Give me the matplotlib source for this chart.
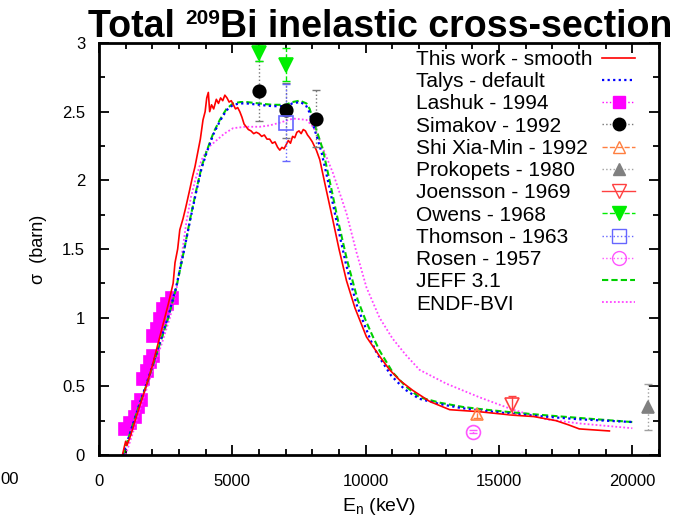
import matplotlib
matplotlib.use("Agg")
import matplotlib.pyplot as plt
from matplotlib.lines import Line2D
from matplotlib.ticker import MultipleLocator

plt.rcParams['font.family'] = ['Liberation Sans', 'DejaVu Sans']
plt.rcParams['mathtext.fontset'] = 'custom'
plt.rcParams['mathtext.rm'] = 'Liberation Sans'
plt.rcParams['mathtext.it'] = 'Liberation Sans:italic'
plt.rcParams['mathtext.bf'] = 'Liberation Sans:bold'

# --- this work (smooth) ---
work_x = [880, 950, 1000, 1050, 1200, 1400, 1600, 1800, 2000, 2200, 2400, 2600,
          2780, 2850, 2950, 3030, 3150, 3250, 3400, 3500, 3600, 3700, 3800, 3900,
          3980, 4040, 4100, 4150, 4220, 4300, 4400, 4480, 4560, 4640, 4720, 4800,
          4880, 4960, 5040, 5120, 5200, 5280, 5360, 5440, 5520, 5600, 5700, 5800,
          5900, 6000, 6100, 6200, 6300, 6400, 6500, 6600, 6700, 6780, 6860, 6940,
          7020, 7100, 7180, 7260, 7340, 7420, 7500, 7580, 7660, 7740, 7820, 7900,
          8000, 8150, 8280, 8500, 8770, 9000, 9280, 9600, 10030, 10520, 10900,
          11300, 11770, 12400, 13150, 14270, 15520, 16300, 17140, 17600, 18010, 19140]
work_y = [0.0, 0.06, 0.1, 0.07, 0.15, 0.28, 0.4, 0.52, 0.65, 0.8, 0.95, 1.1,
          1.25, 1.4, 1.5, 1.64, 1.72, 1.8, 1.93, 2.02, 2.1, 2.2, 2.3, 2.44,
          2.5, 2.6, 2.64, 2.5, 2.55, 2.52, 2.59, 2.56, 2.6, 2.58, 2.62, 2.6,
          2.57, 2.58, 2.55, 2.52, 2.53, 2.5, 2.46, 2.41, 2.39, 2.37, 2.36, 2.34,
          2.35, 2.34, 2.32, 2.33, 2.3, 2.3, 2.27, 2.28, 2.24, 2.22, 2.24, 2.23,
          2.26, 2.29, 2.27, 2.32, 2.31, 2.35, 2.36, 2.34, 2.37, 2.36, 2.33, 2.31,
          2.28, 2.22, 2.15, 1.95, 1.71, 1.5, 1.27, 1.07, 0.86, 0.72, 0.62,
          0.54, 0.47, 0.39, 0.33, 0.315, 0.29, 0.28, 0.25, 0.22, 0.19, 0.175]

# --- Talys default ---
talys_x = [900, 1200, 1500, 1800, 2100, 2400, 2600, 2900, 3200, 3450, 3650, 3850,
           4050, 4300, 4530, 4780, 5030, 5300, 5530, 6000, 6500, 7000, 7250, 7530,
           7750, 7880, 8000, 8150, 8350, 8650, 8900, 9250, 9650, 9950, 10200, 10450,
           10950, 11450, 12000, 12800, 13640, 14500, 15520, 16700, 18000, 19000, 20000]
talys_y = [0.0, 0.18, 0.36, 0.53, 0.71, 0.89, 1.01, 1.23, 1.5, 1.74, 1.92, 2.09,
           2.21, 2.34, 2.43, 2.51, 2.55, 2.56, 2.56, 2.55, 2.54, 2.54, 2.56, 2.57,
           2.55, 2.5, 2.42, 2.33, 2.2, 1.94, 1.71, 1.4, 1.1, 0.95, 0.83, 0.73,
           0.58, 0.48, 0.41, 0.37, 0.34, 0.32, 0.3, 0.28, 0.26, 0.25, 0.24]

# --- JEFF 3.1 ---
jeff_x = [900, 1200, 1500, 1800, 2100, 2400, 2600, 2900, 3200, 3450, 3650, 3850,
          4050, 4300, 4530, 4780, 5030, 5300, 5530, 6000, 6500, 7000, 7250, 7530,
          7780, 7900, 8030, 8200, 8400, 8700, 8960, 9300, 9700, 10000, 10275, 10520,
          11020, 11500, 12020, 12800, 13640, 14500, 15520, 16700, 18000, 19000, 20000]
jeff_y = [0.0, 0.18, 0.36, 0.52, 0.7, 0.88, 1.0, 1.22, 1.5, 1.75, 1.93, 2.1,
          2.22, 2.35, 2.44, 2.52, 2.56, 2.57, 2.57, 2.56, 2.55, 2.55, 2.57, 2.58,
          2.56, 2.52, 2.44, 2.34, 2.22, 1.95, 1.71, 1.42, 1.13, 0.98, 0.86, 0.76,
          0.6, 0.5, 0.42, 0.38, 0.35, 0.33, 0.31, 0.29, 0.27, 0.255, 0.24]

# --- ENDF-BVI ---
endf_x = [1000, 1300, 1600, 1900, 2200, 2450, 2660, 2900, 3100, 3280, 3450, 3650,
          3850, 4100, 4400, 4700, 5030, 5500, 6030, 6400, 6780, 7280, 7780, 8030,
          8280, 8530, 8780, 9280, 9650, 10030, 10520, 11000, 11500, 12020, 13020,
          14270, 15520, 16770, 18000, 20000]
endf_y = [0.0, 0.18, 0.37, 0.55, 0.72, 0.87, 1.0, 1.2, 1.45, 1.7, 1.88, 2.03,
          2.15, 2.24, 2.29, 2.34, 2.38, 2.39, 2.39, 2.4, 2.42, 2.45, 2.44, 2.39,
          2.29, 2.17, 2.05, 1.76, 1.48, 1.22, 1.0, 0.85, 0.73, 0.62, 0.52,
          0.42, 0.33, 0.26, 0.23, 0.195]

# --- experiments ---
lashuk_x = [974, 1161, 1348, 1473, 1560, 1660, 1785, 1910, 2034, 2034, 2160, 2285, 2410, 2560, 2720]
lashuk_y = [0.19, 0.23, 0.28, 0.35, 0.40, 0.55, 0.61, 0.68, 0.72, 0.87, 0.92, 0.99, 1.06, 1.10, 1.14]
lashuk_err = [0.03] * len(lashuk_x)

simakov_x = [6000, 7000, 8130]
simakov_y = [2.65, 2.51, 2.45]
simakov_err = [0.22, 0.20, 0.21]

shi_x = [14180]
shi_y = [0.30]
shi_err = [0.03]

prokopets_x = [20600]
prokopets_y = [0.35]
prokopets_err = [0.17]

joensson_x = [15490]
joensson_y = [0.365]
joensson_err = [0.065]

owens_x = [6000, 7000]
owens_y = [2.93, 2.84]
owens_err = [0.06, 0.12]

thomson_x = [7000]
thomson_y = [2.42]
thomson_err = [0.28]

rosen_x = [14020]
rosen_y = [0.17]
rosen_err = [0.01]

labels = ['This work - smooth', 'Talys - default', 'Lashuk - 1994', 'Simakov - 1992',
          'Shi Xia-Min - 1992', 'Prokopets - 1980', 'Joensson - 1969', 'Owens - 1968',
          'Thomson - 1963', 'Rosen - 1957', 'JEFF 3.1', 'ENDF-BVI']

fig = plt.figure(figsize=(6.88, 5.23), dpi=100)
ax = fig.add_axes([99 / 688, 68 / 523, 560 / 688, 412 / 523])

# curves
ax.plot(endf_x, endf_y, color='#ff44ff', ls=(0, (1, 1.2)), lw=1.3, zorder=2)
ax.plot(jeff_x, jeff_y, color='#00d000', ls=(0, (3, 1.5)), lw=1.5, zorder=2)
ax.plot(talys_x, talys_y, color='#0000ff', ls=(0, (1, 1.5)), lw=1.6, zorder=2.1)
ax.plot(work_x, work_y, color='#ff0000', ls='-', lw=1.2, zorder=2.2)


def points(x, y, err, color, ecolor, ls, marker, ms, mfc, zorder=3, caps=3):
    eb = ax.errorbar(x, y, yerr=err, fmt='none', ecolor=ecolor, elinewidth=1.0,
                     capsize=caps, capthick=1.0, zorder=zorder - 0.5)
    for lc in eb[2]:
        lc.set_linestyle(ls)
    ax.plot(x, y, ls='none', marker=marker, ms=ms, mfc=mfc, mec=color,
            mew=1.2, zorder=zorder)


points(lashuk_x, lashuk_y, lashuk_err, '#ff00ff', '#ff00ff', ':', 's', 9, '#ff00ff', zorder=1.8)
points(simakov_x, simakov_y, simakov_err, 'black', '#777777', ':', 'o', 9, 'black')
points(shi_x, shi_y, shi_err, '#ff7f40', '#ff7f40', '--', '^', 9, 'none')
points(prokopets_x, prokopets_y, prokopets_err, '#808080', '#a0a0a0', ':', '^', 9, '#808080')
points(joensson_x, joensson_y, joensson_err, '#ff4040', '#ff4040', '-', 'v', 10, 'none')
points(owens_x, owens_y, owens_err, '#00ee00', '#00ee00', '--', 'v', 10, '#00ee00')
points(thomson_x, thomson_y, thomson_err, '#6666ff', '#6666ff', ':', 's', 10, 'none')
points(rosen_x, rosen_y, rosen_err, '#ff55ff', '#ff55ff', ':', 'o', 10, 'none')

ax.set_xlim(0, 21000)
ax.set_ylim(0, 3)
ax.xaxis.set_major_locator(MultipleLocator(5000))
ax.xaxis.set_minor_locator(MultipleLocator(1000))
ax.yaxis.set_major_locator(MultipleLocator(0.5))
ax.yaxis.set_minor_locator(MultipleLocator(0.25))
ax.set_yticks([0, 0.5, 1, 1.5, 2, 2.5, 3], ['0', '0.5', '1', '1.5', '2', '2.5', '3'])
ax.tick_params(which='both', direction='in', top=True, right=True, width=1.3, labelsize=12)
ax.tick_params(which='major', length=7)
ax.tick_params(which='minor', length=4)
ax.tick_params(axis='y', pad=10)
ax.tick_params(axis='x', pad=14)
for s in ax.spines.values():
    s.set_linewidth(2)

ax.set_xlabel(r'E$_\mathrm{n}$ (keV)', fontsize=14, labelpad=5)
ax.set_ylabel('σ  (barn)', fontsize=13, labelpad=11)

# title in three pieces so the mass number sits small and raised
t1 = fig.text(88 / 688, 1 - 37 / 523, 'Total ', ha='left', va='baseline',
              fontsize=27, fontweight='bold')
t2 = ax.annotate('209', xy=(1, 1), xycoords=t1, ha='left', va='top',
                 fontsize=15, fontweight='bold', annotation_clip=False)
ax.annotate('Bi inelastic cross-section', xy=(1, 0), xycoords=(t2, t1),
            ha='left', va='bottom', fontsize=27, fontweight='bold',
            annotation_clip=False)

fig.text(0.0, 1 - 480 / 523, '00', ha='left', va='center', fontsize=12)

# legend: left-aligned labels with the keys on the right
handles = [
    Line2D([], [], color='#ff0000', ls='-', lw=1.2),
    Line2D([], [], color='#0000ff', ls=(0, (1, 1.5)), lw=1.6),
    Line2D([], [], color='#ff00ff', ls=':', lw=1, marker='s', ms=9, mfc='#ff00ff', mec='#ff00ff'),
    Line2D([], [], color='#777777', ls=':', lw=1, marker='o', ms=9, mfc='black', mec='black'),
    Line2D([], [], color='#ff7f40', ls='--', lw=1, marker='^', ms=9, mfc='none', mec='#ff7f40'),
    Line2D([], [], color='#a0a0a0', ls=':', lw=1, marker='^', ms=9, mfc='#808080', mec='#808080'),
    Line2D([], [], color='#ff4040', ls='-', lw=1, marker='v', ms=10, mfc='none', mec='#ff4040'),
    Line2D([], [], color='#00ee00', ls='--', lw=1, marker='v', ms=10, mfc='#00ee00', mec='#00ee00'),
    Line2D([], [], color='#6666ff', ls=':', lw=1, marker='s', ms=10, mfc='none', mec='#6666ff'),
    Line2D([], [], color='#ff55ff', ls=':', lw=1, marker='o', ms=10, mfc='none', mec='#ff55ff'),
    Line2D([], [], color='#00d000', ls=(0, (3, 1.5)), lw=1.5),
    Line2D([], [], color='#ff44ff', ls=(0, (1, 1.2)), lw=1.3),
]
blank = [Line2D([], [], ls='none') for _ in labels]
leg_kw = dict(loc='upper left', bbox_transform=fig.transFigure, frameon=False,
              fontsize=15, borderpad=0, borderaxespad=0, labelspacing=0.155)
leg_text = ax.legend(blank, labels, bbox_to_anchor=(416 / 688, 1 - 50 / 523),
                     handlelength=0, handletextpad=0, **leg_kw)
ax.add_artist(leg_text)
ax.legend(handles, [' '] * len(labels), bbox_to_anchor=(602 / 688, 1 - 50 / 523),
          handlelength=1.6, handletextpad=0, **leg_kw)

fig.savefig('out.png', dpi=100)
